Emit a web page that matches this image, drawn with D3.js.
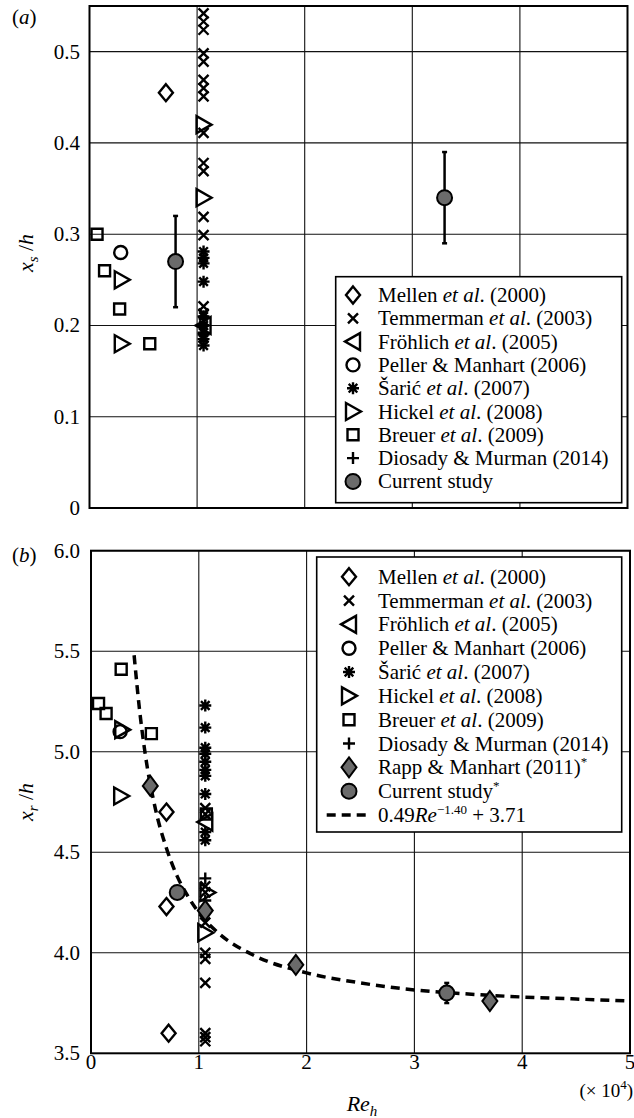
<!DOCTYPE html>
<html>
<head>
<meta charset="utf-8">
<script src="https://cdn.jsdelivr.net/npm/d3@7"></script>
<style>
body { margin: 0; background: #fff; }
svg { display: block; }
text { font-family: "Liberation Serif", "DejaVu Serif", serif; fill: #000; }
</style>
</head>
<body>
<svg id="vis" width="634" height="1118"></svg>
<script>
// Re_h in units of 10^4. Points are [Re, value].
const RE_TICKS = [0, 1, 2, 3, 4, 5];
const XS_TICKS = [0, 0.1, 0.2, 0.3, 0.4, 0.5];
const XR_TICKS = [3.5, 4.0, 4.5, 5.0, 5.5, 6.0];

// ---- panel (a): separation point x_s/h
const mellenA = [[0.71, 0.455]];
const temmermanA = [[1.06, 0.542], [1.06, 0.533], [1.06, 0.524], [1.06, 0.498], [1.06, 0.489],
    [1.06, 0.469], [1.06, 0.460], [1.06, 0.451], [1.06, 0.411], [1.06, 0.378], [1.06, 0.369],
    [1.06, 0.319], [1.06, 0.299], [1.06, 0.221], [1.06, 0.213], [1.06, 0.205], [1.06, 0.195], [1.06, 0.187]];
const frohlichA = [[1.06, 0.200]];
const pellerA = [[0.29, 0.280]];
const saricA = [[1.06, 0.281], [1.06, 0.274], [1.06, 0.268], [1.06, 0.248], [1.06, 0.210],
    [1.06, 0.200], [1.06, 0.192], [1.06, 0.185], [1.06, 0.178]];
const hickelA = [[0.30, 0.250], [0.30, 0.180], [1.06, 0.420], [1.06, 0.340]];
const breuerA = [[0.07, 0.300], [0.14, 0.260], [0.28, 0.218], [0.56, 0.180]];
const diosadyA = [[1.06, 0.190]];
// [Re, value, low, high]
const currentA = [[0.80, 0.270, 0.220, 0.320], [3.30, 0.340, 0.290, 0.390]];

// ---- panel (b): reattachment point x_r/h
const mellenB = [[0.70, 4.70], [0.70, 4.23], [0.72, 3.60]];
const temmermanB = [[1.06, 4.72], [1.06, 4.69], [1.06, 4.33], [1.06, 4.30], [1.06, 4.15],
    [1.06, 4.00], [1.06, 3.97], [1.06, 3.85], [1.06, 3.60], [1.06, 3.58], [1.06, 3.56]];
const frohlichB = [[1.06, 4.65]];
const pellerB = [[0.27, 5.10]];
const saricB = [[1.06, 5.23], [1.06, 5.12], [1.06, 5.02], [1.06, 4.99], [1.06, 4.95],
    [1.06, 4.91], [1.06, 4.88], [1.06, 4.79], [1.06, 4.60], [1.06, 4.56]];
const hickelB = [[0.29, 5.11], [0.28, 4.78], [1.06, 4.10], [1.08, 4.30]];
const breuerB = [[0.07, 5.24], [0.14, 5.19], [0.28, 5.41], [0.56, 5.09], [1.07, 4.69]];
const diosadyB = [[1.06, 4.37], [1.06, 4.26]];
const rappB = [[0.55, 4.83], [1.06, 4.21], [1.90, 3.94], [3.70, 3.76]];
const currentB = [[0.80, 4.30, 4.27, 4.33], [3.30, 3.80, 3.75, 3.85]];

// dashed fit curve
const fitB = [[0.40, 5.48], [0.45, 5.21], [0.50, 5.00], [0.60, 4.71], [0.70, 4.52], [0.80, 4.38],
    [0.90, 4.28], [1.00, 4.20], [1.20, 4.09], [1.50, 3.99], [2.00, 3.90], [2.50, 3.85],
    [3.00, 3.815], [3.50, 3.795], [4.00, 3.78], [4.50, 3.77], [5.00, 3.76]];

const svg = d3.select("#vis");
const GRAY = "#6b6b6b";
const SW = 2.4;

const xA = d3.scaleLinear().domain([0, 5]).range([89.5, 627.5]);
const yA = d3.scaleLinear().domain([0, 0.55]).range([508, 6]);
const xB = d3.scaleLinear().domain([0, 5]).range([91, 630]);
const yB = d3.scaleLinear().domain([3.5, 6.0]).range([1053.3, 550.7]);

function symbolPath(type) {
    switch (type) {
        case "diamond": return "M0,-8.5L7,0L0,8.5L-7,0Z";
        case "cross": return "M-5,-5L5,5M-5,5L5,-5";
        case "triLeft": return "M7,-8.5L7,8.5L-8,0Z";
        case "triRight": return "M-7,-8.5L-7,8.5L8,0Z";
        case "circle": return "M6.5,0A6.5,6.5 0 1,1 -6.5,0A6.5,6.5 0 1,1 6.5,0Z";
        case "square": return "M-5.5,-5.5h11v11h-11Z";
        case "plus": return "M-6,0H6M0,-6V6";
        case "asterisk": return "M-6,0H6M0,-6V6M-4.3,-4.3L4.3,4.3M-4.3,4.3L4.3,-4.3";
        case "dot": return "M7.5,0A7.5,7.5 0 1,1 -7.5,0A7.5,7.5 0 1,1 7.5,0Z";
        case "rapp": return "M0,-10L7.5,0L0,10L-7.5,0Z";
    }
}

function symbolFill(type) {
    return (type === "dot" || type === "rapp") ? GRAY : "none";
}

function drawSeries(g, data, type, xs, ys) {
    g.selectAll(null).data(data).join("path")
        .attr("d", symbolPath(type))
        .attr("transform", d => `translate(${xs(d[0])},${ys(d[1])})`)
        .attr("fill", symbolFill(type))
        .attr("stroke", "#000")
        .attr("stroke-width", type === "dot" || type === "rapp" ? 2 : SW);
}

function drawErrors(g, data, xs, ys) {
    const eb = g.selectAll(null).data(data).join("g");
    eb.append("line")
        .attr("x1", d => xs(d[0])).attr("x2", d => xs(d[0]))
        .attr("y1", d => ys(d[2])).attr("y2", d => ys(d[3]))
        .attr("stroke", "#000").attr("stroke-width", 2.5);
    [2, 3].forEach(k => {
        eb.append("line")
            .attr("x1", d => xs(d[0]) - 2.5).attr("x2", d => xs(d[0]) + 2.5)
            .attr("y1", d => ys(d[k])).attr("y2", d => ys(d[k]))
            .attr("stroke", "#000").attr("stroke-width", 2.5);
    });
}

function drawFrame(xs, ys, yTicks, fmt) {
    const g = svg.append("g");
    const [x0, x1] = xs.range();
    const [y0, y1] = ys.range();
    // grid
    g.selectAll(null).data([1, 2, 3, 4]).join("line")
        .attr("x1", d => xs(d)).attr("x2", d => xs(d))
        .attr("y1", y0).attr("y2", y1)
        .attr("stroke", "#111").attr("stroke-width", 1.1);
    g.selectAll(null).data(yTicks.slice(1)).join("line")
        .attr("x1", x0).attr("x2", x1)
        .attr("y1", d => ys(d)).attr("y2", d => ys(d))
        .attr("stroke", "#111").attr("stroke-width", 1.1);
    // tick labels
    g.selectAll(null).data(yTicks).join("text")
        .attr("x", 80).attr("y", d => ys(d) + 7)
        .attr("text-anchor", "end")
        .attr("font-size", 21)
        .text(fmt);
    return g;
}

function drawBorder(xs, ys) {
    const [x0, x1] = xs.range();
    const [y0, y1] = ys.range();
    svg.append("rect")
        .attr("x", x0).attr("y", y1)
        .attr("width", x1 - x0).attr("height", y0 - y1)
        .attr("fill", "none").attr("stroke", "#000").attr("stroke-width", 2);
}

function drawLegend(box, rows, symX, textX) {
    const g = svg.append("g");
    g.append("rect")
        .attr("x", box.x).attr("y", box.y).attr("width", box.w).attr("height", box.h)
        .attr("fill", "#fff").attr("stroke", "#000").attr("stroke-width", 1.6);
    rows.forEach((r, i) => {
        const cy = box.first + i * box.step;
        if (r.type === "fit") {
            g.append("line")
                .attr("x1", box.x + 10).attr("x2", symX + 19)
                .attr("y1", cy).attr("y2", cy)
                .attr("stroke", "#000").attr("stroke-width", 3.5)
                .attr("stroke-dasharray", "9,6");
        } else {
            g.append("path")
                .attr("d", symbolPath(r.type))
                .attr("transform", `translate(${symX},${cy})`)
                .attr("fill", symbolFill(r.type))
                .attr("stroke", "#000")
                .attr("stroke-width", r.type === "dot" || r.type === "rapp" ? 2 : SW);
        }
        const t = g.append("text").attr("x", textX).attr("y", cy + 7).attr("font-size", 21);
        r.parts.forEach(p => {
            const s = t.append("tspan").text(p.t);
            if (p.i) s.attr("font-style", "italic");
            if (p.sup) s.attr("dy", -8).attr("font-size", 13);
            if (p.down) s.attr("dy", 8);
        });
    });
}

const etal = (name, year) => [{ t: name + " " }, { t: "et al", i: true }, { t: ". (" + year + ")" }];

const LEGEND_A = [
    { type: "diamond", parts: etal("Mellen", 2000) },
    { type: "cross", parts: etal("Temmerman", 2003) },
    { type: "triLeft", parts: etal("Fröhlich", 2005) },
    { type: "circle", parts: [{ t: "Peller & Manhart (2006)" }] },
    { type: "asterisk", parts: etal("Šarić", 2007) },
    { type: "triRight", parts: etal("Hickel", 2008) },
    { type: "square", parts: etal("Breuer", 2009) },
    { type: "plus", parts: [{ t: "Diosady & Murman (2014)" }] },
    { type: "dot", parts: [{ t: "Current study" }] }
];

const LEGEND_B = LEGEND_A.slice(0, 8).concat([
    { type: "rapp", parts: [{ t: " Rapp & Manhart  (2011)" }, { t: "*", sup: true }] },
    { type: "dot", parts: [{ t: "Current study" }, { t: "*", sup: true }] },
    { type: "fit", parts: [{ t: "0.49" }, { t: "Re", i: true }, { t: "−1.40", sup: true }, { t: " + 3.71", down: true }] }
]);

function main() {
    // ---------- panel (a)
    drawFrame(xA, yA, XS_TICKS, d => d === 0 ? "0" : d3.format(".1f")(d));
    const gA = svg.append("g");
    drawSeries(gA, temmermanA, "cross", xA, yA);
    drawSeries(gA, saricA, "asterisk", xA, yA);
    drawSeries(gA, frohlichA, "triLeft", xA, yA);
    drawSeries(gA, diosadyA, "plus", xA, yA);
    drawSeries(gA, mellenA, "diamond", xA, yA);
    drawSeries(gA, pellerA, "circle", xA, yA);
    drawSeries(gA, hickelA, "triRight", xA, yA);
    drawSeries(gA, breuerA, "square", xA, yA);
    drawErrors(gA, currentA, xA, yA);
    drawSeries(gA, currentA, "dot", xA, yA);
    drawLegend({ x: 335.7, y: 276.7, w: 286, h: 226, first: 295, step: 23.3 }, LEGEND_A, 353, 378);
    drawBorder(xA, yA);

    svg.append("text").attr("x", 12).attr("y", 24).attr("font-size", 21)
        .html('(<tspan font-style="italic">a</tspan>)');
    svg.append("text").attr("transform", "translate(33,253) rotate(-90)")
        .attr("text-anchor", "middle").attr("font-size", 22)
        .html('<tspan font-style="italic">x</tspan><tspan font-style="italic" font-size="15" dy="5">s</tspan><tspan dy="-5"> /</tspan><tspan font-style="italic">h</tspan>');

    // ---------- panel (b)
    drawFrame(xB, yB, XR_TICKS, d3.format(".1f"));
    const gB = svg.append("g");
    svg.append("clipPath").attr("id", "clipB").append("rect")
        .attr("x", xB(0)).attr("y", yB(6)).attr("width", xB(5) - xB(0)).attr("height", yB(3.5) - yB(6));
    gB.append("path")
        .datum(fitB)
        .attr("clip-path", "url(#clipB)")
        .attr("d", d3.line().x(d => xB(d[0])).y(d => yB(d[1])).curve(d3.curveMonotoneX))
        .attr("fill", "none").attr("stroke", "#000")
        .attr("stroke-width", 3.5).attr("stroke-dasharray", "9,6");
    drawSeries(gB, temmermanB, "cross", xB, yB);
    drawSeries(gB, saricB, "asterisk", xB, yB);
    drawSeries(gB, frohlichB, "triLeft", xB, yB);
    drawSeries(gB, diosadyB, "plus", xB, yB);
    drawSeries(gB, mellenB, "diamond", xB, yB);
    drawSeries(gB, pellerB, "circle", xB, yB);
    drawSeries(gB, hickelB, "triRight", xB, yB);
    drawSeries(gB, breuerB, "square", xB, yB);
    drawSeries(gB, rappB, "rapp", xB, yB);
    drawErrors(gB, currentB, xB, yB);
    drawSeries(gB, currentB, "dot", xB, yB);
    drawLegend({ x: 316.7, y: 557, w: 305, h: 275, first: 576.7, step: 23.83 }, LEGEND_B, 349, 378);
    drawBorder(xB, yB);

    svg.append("text").attr("x", 12).attr("y", 562).attr("font-size", 21)
        .html('(<tspan font-style="italic">b</tspan>)');
    svg.append("text").attr("transform", "translate(33,802) rotate(-90)")
        .attr("text-anchor", "middle").attr("font-size", 22)
        .html('<tspan font-style="italic">x</tspan><tspan font-style="italic" font-size="15" dy="5">r</tspan><tspan dy="-5"> /</tspan><tspan font-style="italic">h</tspan>');

    // x tick labels and axis title
    svg.append("g").selectAll(null).data(RE_TICKS).join("text")
        .attr("x", d => xB(d)).attr("y", 1069)
        .attr("text-anchor", "middle").attr("font-size", 21)
        .text(d => d);
    svg.append("text").attr("x", 633).attr("y", 1097)
        .attr("text-anchor", "end").attr("font-size", 19)
        .html('(× 10<tspan font-size="13" dy="-8">4</tspan><tspan dy="8">)</tspan>');
    svg.append("text").attr("x", 362).attr("y", 1111)
        .attr("text-anchor", "middle").attr("font-size", 22)
        .html('<tspan font-style="italic">Re</tspan><tspan font-style="italic" font-size="15" dy="5">h</tspan>');
}

main();
</script>
</body>
</html>
